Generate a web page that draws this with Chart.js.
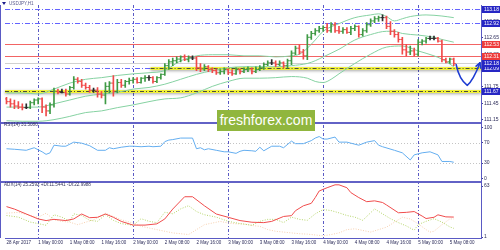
<!DOCTYPE html>
<html>
<head>
<meta charset="utf-8">
<title>USDJPY H1</title>
<script src="https://cdn.jsdelivr.net/npm/chart.js"></script>
<style>
  html, body { margin: 0; padding: 0; background: #fff; }
  #box { position: relative; width: 500px; height: 250px; }
  #mark { position: absolute; left: 217px; top: 110px; width: 98px; height: 21px;
          background: #90b63e; color: #fff; font: 14px "Liberation Sans", Arial, sans-serif;
          line-height: 21px; text-align: center; }
</style>
</head>
<body>
<div id="box">
  <canvas id="chart" width="500" height="250"></canvas>
  <div id="mark">freshforex.com</div>
</div>
<script>
// time labels, one every 8 hourly bars
const labelAt = [0, 8, 16, 24, 32, 40, 48, 56, 64, 72, 80, 88, 96, 104, 112];
const xLabels = ["28 Apr 2017", "1 May 00:00", "1 May 08:00", "1 May 16:00", "2 May 00:00",
  "2 May 08:00", "2 May 16:00", "3 May 00:00", "3 May 08:00", "3 May 16:00", "4 May 00:00",
  "4 May 08:00", "4 May 16:00", "5 May 00:00", "5 May 08:00"];
const daySep = [8, 32, 56, 80, 104];

// USDJPY H1 bars
const openP = [111.53,111.48,111.44,111.40,111.38,111.37,111.37,111.46,111.51,111.53,
  111.38,111.31,111.42,111.67,111.65,111.65,111.62,111.74,111.89,111.85,
  111.78,111.74,111.69,111.69,111.62,111.60,111.76,111.82,111.67,111.83,
  111.78,111.85,111.87,111.89,111.83,111.91,111.92,111.92,111.85,111.92,
  111.98,112.14,112.21,112.23,112.26,112.30,112.25,112.28,112.28,112.10,
  112.08,112.12,112.07,112.05,112.01,112.03,112.07,112.01,111.99,112.07,
  112.03,112.07,112.08,112.03,112.07,112.10,112.16,112.19,112.19,112.16,
  112.19,112.14,112.23,112.37,112.46,112.39,112.32,112.66,112.73,112.78,
  112.82,112.84,112.78,112.89,112.78,112.77,112.80,112.75,112.82,112.86,
  112.71,112.78,112.89,112.96,113.00,113.02,113.02,112.86,112.77,112.71,
  112.62,112.43,112.39,112.41,112.35,112.57,112.59,112.64,112.64,112.64,
  112.59,112.25,112.21,112.26];
const highP = [111.56,111.53,111.51,111.48,111.44,111.44,111.49,111.53,111.55,111.55,
  111.42,111.46,111.73,111.71,111.71,111.71,111.76,111.94,111.92,111.89,
  111.82,111.78,111.73,111.74,111.67,111.83,111.85,111.96,111.89,111.89,
  111.87,111.91,111.92,111.92,111.92,111.96,111.96,111.94,111.94,111.99,
  112.18,112.25,112.28,112.30,112.32,112.34,112.32,112.32,112.30,112.18,
  112.16,112.14,112.10,112.08,112.07,112.10,112.08,112.07,112.10,112.08,
  112.10,112.12,112.10,112.12,112.14,112.19,112.23,112.25,112.23,112.23,
  112.21,112.26,112.41,112.50,112.52,112.44,112.71,112.77,112.82,112.86,
  112.87,112.91,112.93,112.93,112.86,112.84,112.84,112.86,112.89,112.87,
  112.82,112.93,113.00,113.04,113.05,113.07,113.05,112.95,112.80,112.75,
  112.66,112.53,112.50,112.46,112.62,112.62,112.66,112.68,112.68,112.66,
  112.61,112.28,112.28,112.28];
const lowP = [111.44,111.38,111.35,111.35,111.33,111.35,111.35,111.42,111.44,111.28,
  111.22,111.26,111.38,111.62,111.64,111.58,111.60,111.71,111.82,111.74,
  111.71,111.65,111.65,111.56,111.55,111.44,111.64,111.58,111.64,111.74,
  111.74,111.80,111.82,111.82,111.82,111.85,111.87,111.82,111.83,111.89,
  111.96,112.07,112.14,112.19,112.21,112.23,112.21,112.25,112.05,112.03,
  112.05,112.03,112.01,111.98,111.98,111.99,111.98,111.96,111.98,111.99,
  112.01,112.03,111.99,112.01,112.05,112.07,112.14,112.16,112.12,112.14,
  112.10,112.10,112.16,112.34,112.35,112.26,112.25,112.62,112.70,112.75,
  112.77,112.75,112.75,112.75,112.73,112.73,112.73,112.71,112.78,112.66,
  112.68,112.75,112.86,112.93,112.95,112.96,112.82,112.71,112.66,112.57,
  112.35,112.32,112.34,112.32,112.32,112.52,112.55,112.61,112.61,112.57,
  112.21,112.19,112.18,112.14];
const closeP = [111.48,111.44,111.40,111.38,111.37,111.37,111.46,111.51,111.53,111.38,
  111.31,111.42,111.67,111.65,111.65,111.62,111.74,111.89,111.85,111.78,
  111.74,111.69,111.69,111.62,111.60,111.76,111.82,111.67,111.83,111.78,
  111.85,111.87,111.89,111.83,111.91,111.92,111.92,111.85,111.92,111.98,
  112.14,112.21,112.23,112.26,112.30,112.25,112.28,112.28,112.10,112.08,
  112.12,112.07,112.05,112.01,112.03,112.07,112.01,111.99,112.07,112.03,
  112.07,112.08,112.03,112.07,112.10,112.16,112.19,112.19,112.16,112.19,
  112.14,112.23,112.37,112.46,112.39,112.32,112.66,112.73,112.78,112.82,
  112.84,112.78,112.89,112.78,112.77,112.80,112.75,112.82,112.86,112.71,
  112.78,112.89,112.96,113.00,113.02,113.02,112.86,112.77,112.71,112.62,
  112.43,112.39,112.41,112.35,112.57,112.59,112.64,112.64,112.64,112.59,
  112.25,112.21,112.26,112.18];

// Bollinger bands (bar index -> price)
const upAt = [0,4,8,12,16,20,24,28,32,36,40,42,44,46,48,52,56,60,64,68,72,74,76,78,80,84,88,92,94,96,98,100,102,106,110,113];
const upBand = [111.64,111.64,111.62,111.71,111.82,111.89,111.92,111.96,111.99,112.01,
  112.05,112.14,112.23,112.28,112.32,112.34,112.34,112.32,112.32,112.30,
  112.32,112.35,112.46,112.61,112.77,112.91,113.02,113.07,113.09,113.04,
  112.96,113.00,113.04,113.07,113.05,113.02];
const midAt = [0,4,8,12,16,20,24,28,32,36,40,44,48,52,56,60,64,68,72,76,78,80,84,88,92,96,98,100,104,108,110,113];
const midBand = [111.38,111.38,111.38,111.44,111.51,111.58,111.62,111.65,111.71,111.74,
  111.80,111.89,111.98,112.05,112.10,112.12,112.12,112.12,112.14,112.18,
  112.23,112.30,112.44,112.61,112.71,112.77,112.77,112.73,112.70,112.66,112.62,112.57];
const lowAt = [0,4,8,12,16,20,24,28,32,36,40,44,48,52,56,60,64,68,72,76,78,80,82,84,88,92,96,100,104,108,110,113];
const lowBand = [111.13,111.12,111.12,111.15,111.21,111.28,111.31,111.37,111.42,111.48,
  111.53,111.55,111.64,111.76,111.85,111.91,111.91,111.92,111.94,111.91,
  111.85,111.83,111.89,111.99,112.18,112.35,112.48,112.50,112.41,112.32,112.26,112.12];

// RSI(14)
const rsiAt = [0,2,5,7,9,10,11,12,14,15,17,19,21,23,25,26,27,29,31,32,34,36,37,39,40,41,42,44,47,48,
  49,50,51,53,55,56,58,59,60,62,63,64,65,67,69,70,72,73,75,77,78,79,80,81,83,84,86,87,89,91,
  93,94,95,98,100,102,103,105,107,109,110,112,113];
const rsi = [58,57,55,60,52,47,50,65,63,63,71,69,64,55,55,60,58,61,63,63,62,63,62,63,72,75,76,79,79,58,
  60,56,58,55,52,52,49,53,55,54,53,61,54,63,63,60,73,68,68,74,79,82,77,77,81,71,71,69,65,71,
  74,65,62,55,50,36,46,50,52,46,33,33,31.5];
const rsiLevels = [70, 30];

// ADX(14), +DI, -DI
const adxAt = [0,2,5,8,10,12,15,17,19,21,23,25,27,29,32,35,38,40,42,45,47,50,53,56,59,62,65,67,70,72,
  73,75,77,78,79,81,83,84,86,87,89,91,93,95,96,99,101,103,105,106,108,109,111,113];
const adx = [38,35,29,23,21,22.5,21,23,29,24.5,25,29,25,20,15.5,15.5,17,23,35,50,50,39,29,25,21,19,18.5,20,26,27,
  33,39,42,49,57,61,64.5,64.5,61,55,49,44,45,43,40,30.5,31,32,26.5,23.5,25,28,25.5,25.26];
const pdiAt = [0,3,6,8,10,12,14,16,17,19,21,23,25,27,29,32,34,36,38,40,42,44,46,48,50,53,56,59,62,64,
  66,68,70,72,74,76,78,80,82,84,86,88,90,93,95,97,99,101,103,104,106,108,110,112,113];
const pdi = [27.2,25.2,19.2,17.3,15.3,28.1,25.2,20.1,29.2,27.2,21.3,20.1,28.1,21.3,17.3,15.3,23.3,20.1,18.5,31.2,
  29.2,35.2,39.1,32,28.1,25.2,20.1,17.3,15.3,20.1,22.5,22.5,18.5,25.2,22.5,21.3,29.2,34.4,33.2,30.4,
  27.2,25.2,21.3,35.2,29.2,23.3,18.5,14.5,9.3,16.1,20.1,23.3,19.2,13.3,11.54];
const mdiAt = [0,3,6,8,10,12,14,16,18,20,22,24,25,27,29,32,34,36,38,40,42,44,46,48,50,52,54,56,58,60,
  62,64,66,68,70,72,74,76,78,80,82,84,86,88,90,92,94,96,98,100,102,104,106,107,108,110,112,113];
const mdi = [30,31,27,25,30,22,20,19,16,19,22,27,30,26,22,18,14,12,10,8,6,5,4,10,16,18,20,18,17,17,
  15,14,10,8,7,6,5,4.5,3.5,2.5,4,6,10,11,9,7,10,13,19,25,23,17,10,7,8,16,23,23];

// drawn levels
const blueLevels = [113.18, 112.92, 112.09];
const redLevels = [112.53, 112.31];
const yellowLevels = [112.09, 111.67];
const yellowFrom = [36.4, -0.375];
const bidPrice = 112.18;
const blueBoxes = [113.18, 112.92, 112.09, 112.18, 111.67];
const redBoxes = [112.53, 112.31];
const arrowPts = [[113.6, 112.16], [116.4, 111.78], [119.6, 112.19]];

const UP = '#3f9a45', DOWN = '#f04a4a', DOJI = '#2a2a2a';
const barColors = closeP.map((c, i) => c > openP[i] ? UP : (c < openP[i] ? DOWN : DOJI));
const pts = (at, vals) => at.map((x, k) => ({x: x, y: vals[k]}));

Chart.defaults.font.family = '"Liberation Sans", Arial, sans-serif';

const overlay = {
  id: 'overlay',
  beforeDatasetsDraw(chart) {
    const {ctx, chartArea: a, scales: {x, y, yRsi}} = chart;
    const hl = (yy, x0, x1) => { ctx.beginPath(); ctx.moveTo(x0, yy); ctx.lineTo(x1, yy); ctx.stroke(); };
    ctx.save();
    ctx.lineWidth = 1;
    // rsi levels
    ctx.strokeStyle = '#c4c4c4';
    ctx.setLineDash([1, 2]);
    rsiLevels.forEach(v => hl(Math.round(yRsi.getPixelForValue(v)) + 0.5, a.left, a.right));
    // day separators
    ctx.strokeStyle = '#5a5ac4';
    ctx.setLineDash([3, 2, 1, 2]);
    daySep.forEach(i => {
      const xx = Math.floor(x.getPixelForValue(i)) + 0.5;
      ctx.beginPath(); ctx.moveTo(xx, a.top); ctx.lineTo(xx, a.bottom); ctx.stroke();
    });
    // bid line
    ctx.setLineDash([]);
    ctx.strokeStyle = '#d0d0d0';
    hl(Math.round(y.getPixelForValue(bidPrice)) + 0.5, a.left, a.right);
    // blue dash-dot levels
    ctx.strokeStyle = '#6464ff';
    ctx.setLineDash([5, 2, 1, 2]);
    blueLevels.forEach(v => hl(Math.round(y.getPixelForValue(v)) + 0.5, a.left, a.right));
    // red levels
    ctx.setLineDash([]);
    ctx.strokeStyle = '#f26464';
    ctx.lineWidth = 1;
    redLevels.forEach(v => hl(Math.round(y.getPixelForValue(v)) + 0.5, a.left, a.right));
    // yellow levels
    yellowLevels.forEach((v, k) => {
      const yy = Math.round(y.getPixelForValue(v)) + 0.5;
      const x0 = x.getPixelForValue(yellowFrom[k]);
      ctx.save();
      ctx.shadowColor = 'rgba(0,0,0,0.35)';
      ctx.shadowBlur = 3;
      ctx.shadowOffsetY = 1;
      ctx.strokeStyle = '#f2f238';
      ctx.lineWidth = 3;
      hl(yy, x0, a.right);
      ctx.restore();
      ctx.strokeStyle = '#4c4c3c';
      ctx.lineWidth = 1;
      ctx.setLineDash([4, 2, 1, 2]);
      hl(yy, x0, a.right);
      ctx.setLineDash([]);
    });
    ctx.restore();
  },
  afterDatasetsDraw(chart) {
    const {ctx, chartArea: a, scales: {y, yRsi}} = chart;
    ctx.save();
    ctx.strokeStyle = '#6262c6';
    ctx.lineWidth = 2;
    [y.bottom, yRsi.bottom].forEach(yy => {
      ctx.beginPath(); ctx.moveTo(0, Math.round(yy)); ctx.lineTo(a.right, Math.round(yy)); ctx.stroke();
    });
    ctx.lineWidth = 1;
    ctx.strokeStyle = '#5a5ac4';
    ctx.beginPath(); ctx.moveTo(0.5, a.top); ctx.lineTo(0.5, a.bottom); ctx.stroke();
    ctx.restore();
  },
  afterDraw(chart) {
    const {ctx, chartArea: a, scales: {x, y}} = chart;
    ctx.save();
    // price boxes on the axis
    ctx.font = '5px "Liberation Sans", Arial, sans-serif';
    ctx.textBaseline = 'middle';
    ctx.textAlign = 'left';
    [[blueBoxes, '#2626c4'], [redBoxes, '#ee3c3c']].forEach(([arr, col]) => arr.forEach(v => {
      const yy = Math.round(y.getPixelForValue(v));
      ctx.fillStyle = col;
      ctx.fillRect(a.right + 1, yy - 3, 19, 7);
      ctx.fillStyle = '#fff';
      ctx.fillText(v.toFixed(2), a.right + 3, yy + 0.5);
    }));
    // titles
    ctx.fillStyle = '#1c1c8c';
    ctx.beginPath(); ctx.moveTo(2, 2); ctx.lineTo(6, 2); ctx.lineTo(4, 5); ctx.closePath(); ctx.fill();
    ctx.fillStyle = '#5a5a8e';
    ctx.font = '4.6px "Liberation Sans", Arial, sans-serif';
    ctx.fillText('USDJPY,H1', 9, 4);
    ctx.fillStyle = '#34345c';
    ctx.fillText('RSI(14) 31.5080', 4, 125);
    ctx.fillText('ADX(14) 25.2592 +DI:11.5441 -DI:22.9988', 4, 185);
    // hand-drawn arrow
    const p = arrowPts.map(([i, v]) => [x.getPixelForValue(i), y.getPixelForValue(v)]);
    ctx.strokeStyle = '#1e3cd2';
    ctx.lineWidth = 1.6;
    ctx.lineCap = 'round';
    ctx.beginPath();
    ctx.moveTo(p[0][0], p[0][1]);
    ctx.quadraticCurveTo(p[0][0] + 3, p[1][1] - 6, p[1][0], p[1][1]);
    ctx.quadraticCurveTo(p[1][0] + 6, p[1][1] - 5, p[2][0], p[2][1]);
    ctx.stroke();
    const ang = Math.atan2(p[2][1] - (p[1][1] - 5), p[2][0] - (p[1][0] + 6));
    [0.5, -0.5].forEach(d => {
      ctx.beginPath();
      ctx.moveTo(p[2][0], p[2][1]);
      ctx.lineTo(p[2][0] - 5 * Math.cos(ang + d), p[2][1] - 5 * Math.sin(ang + d));
      ctx.stroke();
    });
    ctx.restore();
  }
};

const yAxis = (stackWeight, min, max, ticks, digits) => ({
  position: 'right', stack: 'panes', stackWeight: stackWeight, min: min, max: max,
  afterBuildTicks: s => { s.ticks = ticks.map(v => ({value: v})); },
  afterFit: s => { s.width = 19; },
  border: {display: true, color: '#5a5ac4'},
  grid: {drawOnChartArea: false, drawTicks: true, tickLength: 2, color: '#40408a'},
  ticks: {autoSkip: false, padding: 1, color: '#2c2c5a', font: {size: 5},
    callback: v => v.toFixed(digits)}
});

new Chart(document.getElementById('chart'), {
  type: 'bar',
  data: {
    datasets: [
      {type: 'bar', data: closeP.map((c, i) => ({x: i, y: [lowP[i], highP[i]]})),
        backgroundColor: barColors, barThickness: 1, yAxisID: 'y', order: 0},
      {type: 'line', data: openP.map((o, i) => ({x: i - 0.25, y: o})), showLine: false,
        pointStyle: 'line', pointRadius: 1, pointBorderWidth: 1, pointBorderColor: barColors, yAxisID: 'y', order: 0},
      {type: 'line', data: closeP.map((c, i) => ({x: i + 0.25, y: c})), showLine: false,
        pointStyle: 'line', pointRadius: 1, pointBorderWidth: 1, pointBorderColor: barColors, yAxisID: 'y', order: 0},
      {type: 'line', data: pts(upAt, upBand), borderColor: '#86d2a2', borderWidth: 1, pointRadius: 0,
        cubicInterpolationMode: 'monotone', yAxisID: 'y', order: 1},
      {type: 'line', data: pts(midAt, midBand), borderColor: '#86d2a2', borderWidth: 1, pointRadius: 0,
        cubicInterpolationMode: 'monotone', yAxisID: 'y', order: 1},
      {type: 'line', data: pts(lowAt, lowBand), borderColor: '#86d2a2', borderWidth: 1, pointRadius: 0,
        cubicInterpolationMode: 'monotone', yAxisID: 'y', order: 1},
      {type: 'line', data: pts(rsiAt, rsi), borderColor: '#64aef0', borderWidth: 1, pointRadius: 0,
        yAxisID: 'yRsi', order: 2},
      {type: 'line', data: pts(pdiAt, pdi), borderColor: '#b4d468', borderWidth: 1, borderDash: [1, 1.5],
        pointRadius: 0, yAxisID: 'yAdx', order: 4},
      {type: 'line', data: pts(mdiAt, mdi), borderColor: '#f6cfae', borderWidth: 1, borderDash: [1, 1.5],
        pointRadius: 0, yAxisID: 'yAdx', order: 4},
      {type: 'line', data: pts(adxAt, adx), borderColor: '#f04c4c', borderWidth: 1, pointRadius: 0,
        yAxisID: 'yAdx', order: 3}
    ]
  },
  options: {
    responsive: false,
    animation: false,
    devicePixelRatio: 1,
    layout: {padding: 0},
    plugins: {legend: {display: false}, tooltip: {enabled: false}},
    scales: {
      x: {
        type: 'linear', min: -0.375, max: 119.875, offset: false, position: 'bottom',
        afterBuildTicks: s => { s.ticks = labelAt.map(v => ({value: v})); },
        afterFit: s => { s.height = 12; },
        border: {display: true, color: '#5a5ac4'},
        grid: {display: false, drawTicks: false, offset: false},
        ticks: {autoSkip: false, maxRotation: 0, align: 'start', padding: 2, color: '#2c2c5a',
          font: {size: 4.5}, callback: (v, i) => xLabels[i]}
      },
      y: yAxis(121, 111.08, 113.252, [111.15, 111.45, 111.75, 112.05, 112.35, 112.65, 112.95], 2),
      yRsi: yAxis(60, -7.7, 107.7, [0, 30, 70, 100], 0),
      yAdx: yAxis(57, -0.2, 67.7, [1, 63], 0)
    }
  },
  plugins: [overlay]
});
</script>
</body>
</html>
